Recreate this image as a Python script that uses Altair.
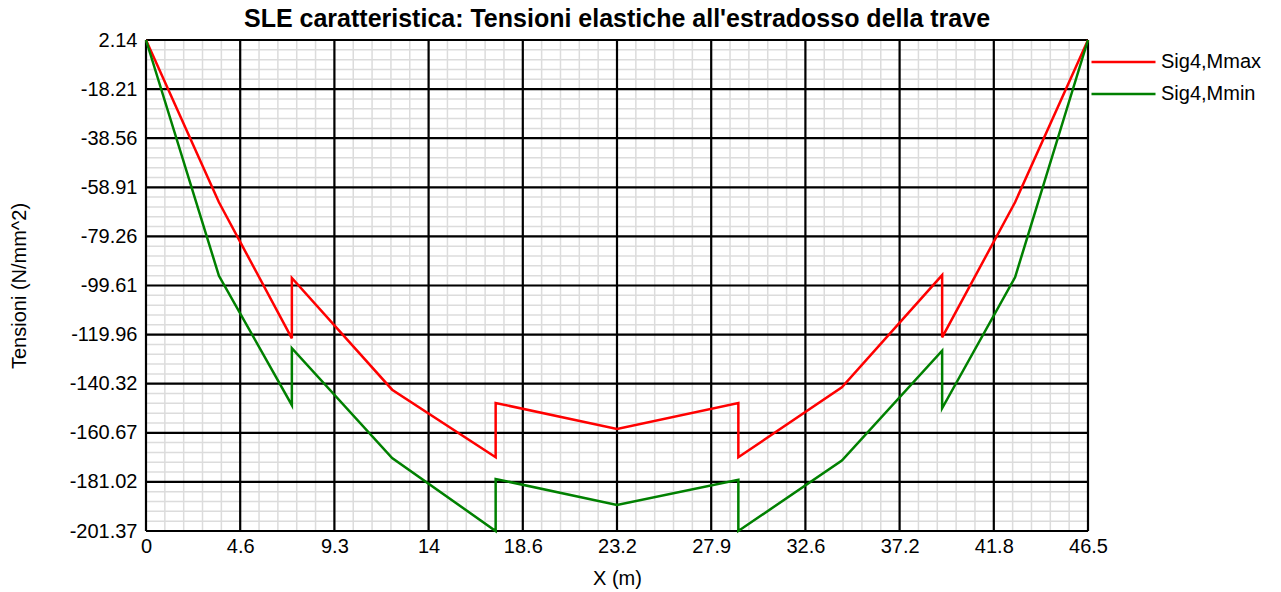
import altair as alt
import numpy as np
import pandas as pd

# ---- data ----
x_pts = [0.0, 3.6, 7.2, 7.2, 12.15, 17.26, 17.26, 23.25, 29.24, 29.24, 34.35, 39.3, 39.3, 42.9, 46.5]
sig_max = [2.14, -65.1, -121.5, -96.5, -142.8, -170.8, -148.3, -159.1, -148.3, -170.8, -141.8, -95.3, -121.1, -65.1, 2.14]
sig_min = [2.14, -95.6, -149.2, -125.6, -171.1, -201.37, -179.8, -190.6, -180.1, -201.37, -172.2, -126.6, -150.5, -96.2, 2.14]
series_names = ["Sig4,Mmax", "Sig4,Mmin"]
series_colors = ["#ff0000", "#008000"]

x_ticks = [0, 4.65, 9.3, 13.95, 18.6, 23.25, 27.9, 32.55, 37.2, 41.85, 46.5]
x_labels = ["0", "4.6", "9.3", "14", "18.6", "23.2", "27.9", "32.6", "37.2", "41.8", "46.5"]
y_ticks = [2.14, -18.21, -38.56, -58.91, -79.26, -99.61, -119.96, -140.32, -160.67, -181.02, -201.37]
y_labels = ["2.14", "-18.21", "-38.56", "-58.91", "-79.26", "-99.61", "-119.96", "-140.32", "-160.67", "-181.02", "-201.37"]

title = "SLE caratteristica: Tensioni elastiche all'estradosso della trave"
x_title = "X (m)"
y_title = "Tensioni (N/mm^2)"

FONT = "Liberation Sans"

rows = []
for name, vals in zip(series_names, [sig_max, sig_min]):
    for i, (xv, yv) in enumerate(zip(x_pts, vals)):
        rows.append({"x": xv, "y": yv, "serie": name, "ord": i})
df = pd.DataFrame(rows)

x_min, x_max = x_ticks[0], x_ticks[-1]
y_min, y_max = y_ticks[-1], y_ticks[0]

# minor grid positions (5 subdivisions per major step)
x_minor = np.linspace(x_min, x_max, (len(x_ticks) - 1) * 5 + 1)
y_minor = np.linspace(y_max, y_min, (len(y_ticks) - 1) * 5 + 1)
df_xminor = pd.DataFrame({"x": x_minor})
df_yminor = pd.DataFrame({"y": y_minor})
df_xmajor = pd.DataFrame({"x": x_ticks})
df_ymajor = pd.DataFrame({"y": y_ticks})

xlab_expr = "{" + ",".join(f"'{v}':'{l}'" for v, l in zip(x_ticks, x_labels)) + "}[''+datum.value]"
ylab_expr = "{" + ",".join(f"'{v}':'{l}'" for v, l in zip(y_ticks, y_labels)) + "}[''+datum.value]"

xscale = alt.Scale(domain=[x_min, x_max], nice=False, zero=False)
yscale = alt.Scale(domain=[y_min, y_max], nice=False, zero=False)

x_axis = alt.Axis(values=x_ticks, labelExpr=xlab_expr,
                  grid=False, ticks=False, domain=False, labelFont=FONT, labelFontSize=20,
                  labelColor="#000000", labelPadding=5, title=x_title, titleFont=FONT,
                  titleFontSize=20, titleFontWeight="normal", titleColor="#000000", titlePadding=12,
                  labelFlush=False, labelOverlap=False)
y_axis = alt.Axis(values=y_ticks, labelExpr=ylab_expr,
                  grid=False, ticks=False, domain=False, labelFont=FONT, labelFontSize=20,
                  labelColor="#000000", labelPadding=9, title=y_title, titleFont=FONT,
                  titleFontSize=20, titleFontWeight="normal", titleColor="#000000", titlePadding=40,
                  labelFlush=False, labelOverlap=False)

minor_v = alt.Chart(df_xminor).mark_rule(color="#dcdcdc", strokeWidth=1.5).encode(
    x=alt.X("x:Q", scale=xscale, axis=x_axis))
minor_h = alt.Chart(df_yminor).mark_rule(color="#dcdcdc", strokeWidth=1.5).encode(
    y=alt.Y("y:Q", scale=yscale, axis=y_axis))
major_v = alt.Chart(df_xmajor).mark_rule(color="#000000", strokeWidth=2.2).encode(
    x=alt.X("x:Q", scale=xscale))
major_h = alt.Chart(df_ymajor).mark_rule(color="#000000", strokeWidth=2.2).encode(
    y=alt.Y("y:Q", scale=yscale))

lines = alt.Chart(df).mark_line(strokeWidth=2.5).encode(
    x=alt.X("x:Q", scale=xscale),
    y=alt.Y("y:Q", scale=yscale),
    order="ord:Q",
    color=alt.Color("serie:N", scale=alt.Scale(domain=series_names, range=series_colors),
                    legend=alt.Legend(title=None, orient="none", legendX=946, legendY=10.5,
                                      symbolType="M-3.2,0H3.2", symbolSize=400,
                                      symbolStrokeWidth=2.5, symbolOffset=20,
                                      labelFont=FONT, labelFontSize=20, labelColor="#000000",
                                      labelOffset=26, rowPadding=10)),
)

chart = alt.layer(minor_v, minor_h, major_v, major_h, lines).properties(
    width=942, height=491,
    autosize=alt.AutoSizeParams(type="none"),
    padding={"left": 138, "top": 32, "right": 185, "bottom": 60},
    title=alt.TitleParams(title, font=FONT, fontSize=25, fontWeight="bold", color="#000000",
                          anchor="middle", offset=-2),
).configure_view(stroke="#000000", strokeWidth=2.5).configure(background="#ffffff")

chart.save("out.html", embed_options={"renderer": "svg", "actions": False})
